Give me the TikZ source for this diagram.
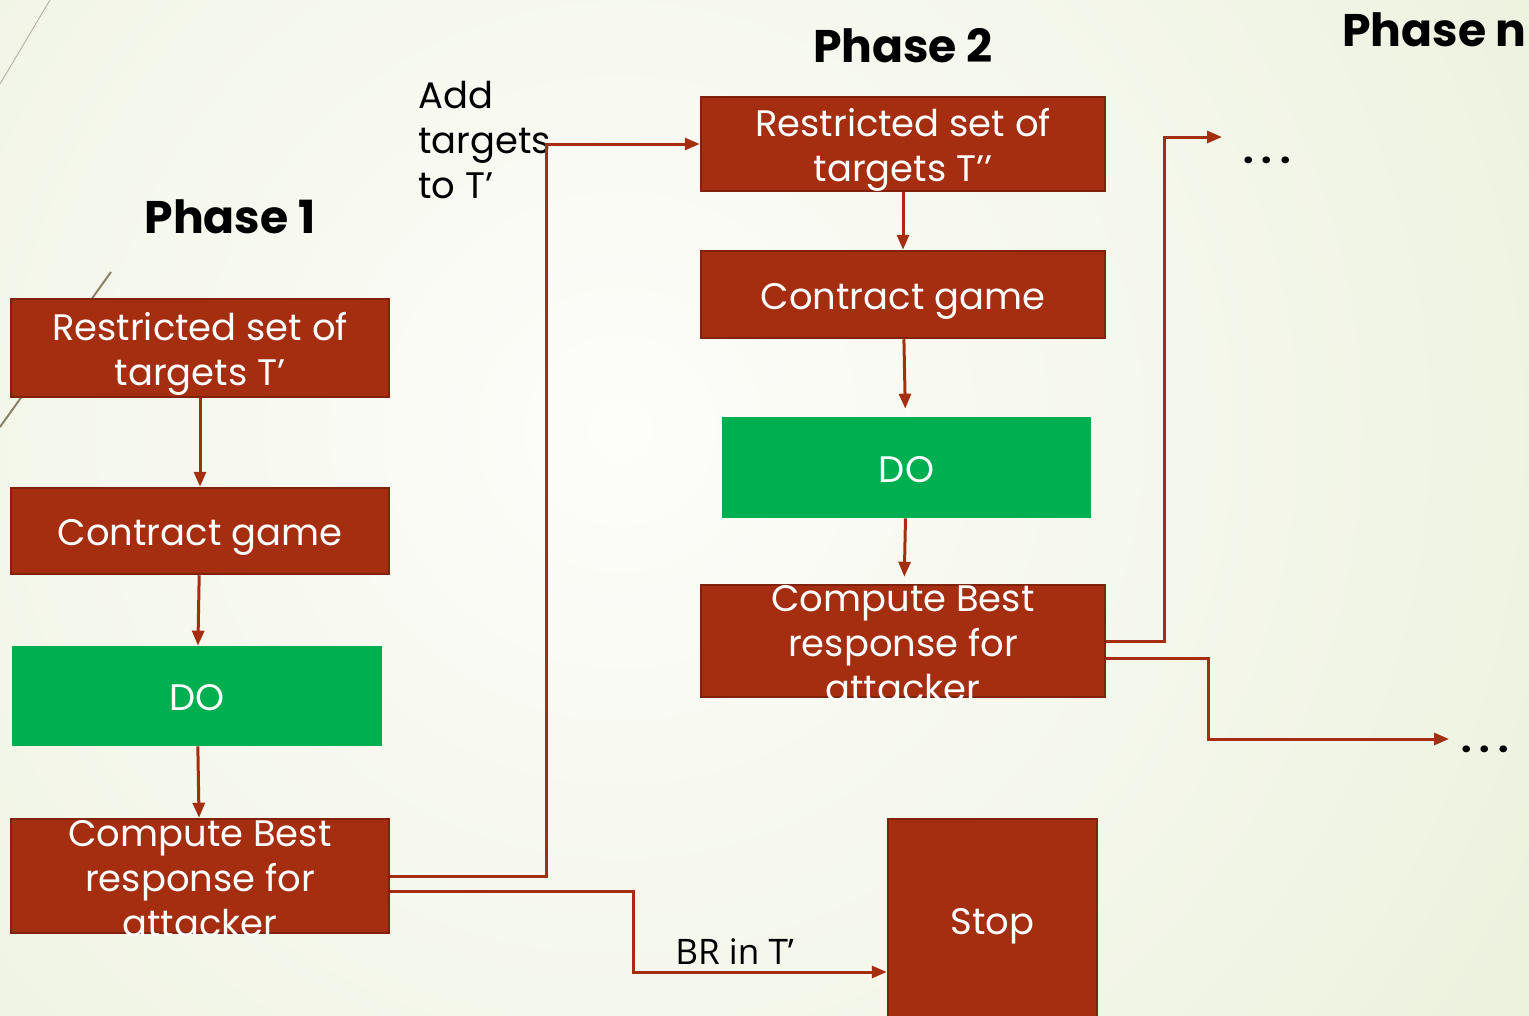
\documentclass[tikz,border=0pt]{standalone}
\usepackage{fontspec}
\setmainfont{Poppins}
\newfontfamily\brfont{Open Sans}
\usetikzlibrary{arrows.meta, positioning}
\definecolor{dgRust}{RGB}{165,46,16}
\definecolor{dgRustDark}{RGB}{128,34,12}
\definecolor{dgGreen}{RGB}{0,176,80}
\definecolor{dgBgIn}{RGB}{253,253,250}
\definecolor{dgBgOut}{RGB}{222,232,198}
\definecolor{dgSlash}{RGB}{140,130,105}
\newcommand{\dgdots}{\bfseries .\kern4.5pt.\kern4.5pt.}

\begin{document}
\begin{tikzpicture}[x=0.2mm, y=-0.2mm,
        redbox/.style={draw=dgRustDark, line width=0.5mm, fill=dgRust, text=white, align=center, inner sep=0pt, font=\fontsize{21}{25.6}\selectfont},
        dobox/.style={fill=dgGreen, text=white, inner sep=0pt, font=\fontsize{21}{25.6}\selectfont},
        oneline/.style={text height=7.3mm, text depth=1.5mm},
        twoline/.style={text height=16.3mm, text depth=1.5mm},
        boxtext/.style={text=white, align=center, inner sep=0pt, font=\fontsize{21}{25.6}\selectfont},
        flow/.style={-{Triangle[length=3mm, width=2.4mm]}, dgRust, line width=0.6mm},
        ttl/.style={font=\fontsize{26}{30}\selectfont\bfseries},
        note/.style={align=left, inner sep=0pt, font=\fontsize{21}{25.6}\selectfont}]
        % background
        \begin{scope}
          \clip (0,0) rectangle (1529,1016);
          \shade[inner color=dgBgIn, outer color=dgBgOut] (-1380,-1570) rectangle (2620,2430);
          \draw[dgSlash!60, line width=0.2mm] (50,0) -- (0,84);
          \draw[dgSlash, line width=0.4mm] (111,272) -- (0,427);
        \end{scope}
        \useasboundingbox (0,0) rectangle (1529,1016);
        % phase 1
        \node[ttl] (ph1) at (230,217) {Phase 1};
        \node[redbox, twoline, minimum width=75.6mm, minimum height=19.6mm] (r1) at (200,348) {Restricted set of\\targets T’};
        \node[redbox, oneline, minimum width=75.6mm, minimum height=17.2mm] (c1) at (200,531) {Contract game};
        \node[dobox, oneline, minimum width=74mm, minimum height=20mm] (d1) at (197,696) {DO};
        \node[redbox, minimum width=75.6mm, minimum height=22.8mm,
              label={[boxtext, yshift=-0.6mm]center:Compute Best\\response for\\attacker}] (b1) at (200,876) {};
        % phase 2
        \node[ttl] (ph2) at (903,46) {Phase 2};
        \node[redbox, twoline, minimum width=80.8mm, minimum height=18.8mm] (r2) at (903,144) {Restricted set of\\targets T’’};
        \node[redbox, oneline, minimum width=80.8mm, minimum height=17.4mm] (c2) at (903,294.5) {Contract game};
        \node[dobox, oneline, minimum width=73.8mm, minimum height=20.2mm] (d2) at (906.5,467.5) {DO};
        \node[redbox, minimum width=80.8mm, minimum height=22.4mm,
              label={[boxtext, yshift=-0.6mm]center:Compute Best\\response for\\attacker}] (b2) at (903,641) {};
        \node[redbox, oneline, minimum width=41.8mm, minimum height=40.4mm] (stop) at (992.5,920) {Stop};
        % phase n
        \node[ttl, anchor=east, inner sep=0pt] (phn) at (1527,30) {Phase n};
        \node[note] (dots1) at (1267,160) {\dgdots};
        \node[note] (dots2) at (1485,749) {\dgdots};
        \coordinate (e1) at (1222,137);
        \coordinate (e2) at (1449,739);
        \node[note, anchor=north west] (addt) at (418,81) {Add\\targets\\to T’};
        % connectors
        \draw[flow] (r1) -- (c1);
        \draw[flow] (c1) -- (d1);
        \draw[flow] (d1) -- (b1);
        \draw[flow] (b1.east) -- ++(31.2mm,0) |- (r2.west);
        \draw[flow] ([yshift=-3mm]b1.east) -- ++(48.6mm,0) |- ([yshift=-10.4mm]stop.west)
          node[pos=0.7, above=1.2mm, inner sep=0pt, text=black, font=\brfont\fontsize{20}{24}\selectfont] (brt) {BR in T’};
        \draw[flow] (r2) -- (c2);
        \draw[flow, shorten >=1.6mm] (c2) -- (d2);
        \draw[flow, shorten >=1.4mm] (d2) -- (b2);
        \draw[flow] (b2.east) -- ++(11.6mm,0) |- (e1);
        \draw[flow] ([yshift=-3.4mm]b2.east) -- ++(20.4mm,0) |- (e2);
      \end{tikzpicture}
\end{document}
